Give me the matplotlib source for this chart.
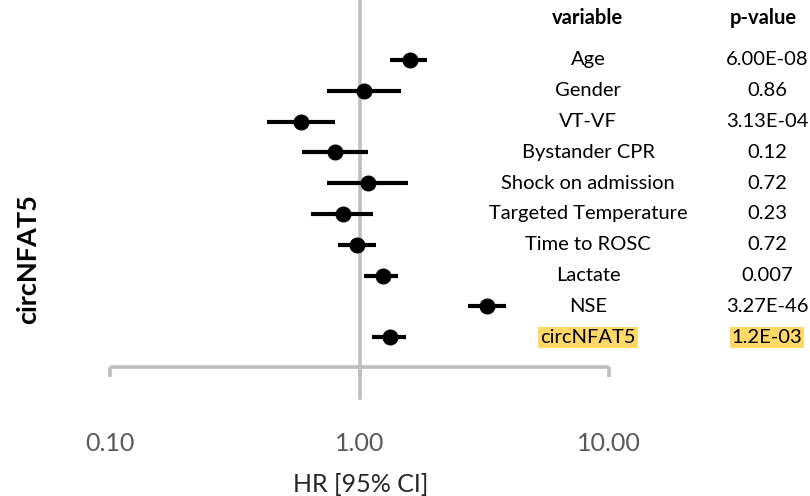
import matplotlib
matplotlib.use('Agg')
import matplotlib.pyplot as plt
import matplotlib.transforms as mtransforms

plt.rcParams['font.family'] = ['Lato', 'DejaVu Sans']

variables = ['Age', 'Gender', 'VT-VF', 'Bystander CPR', 'Shock on admission',
             'Targeted Temperature', 'Time to ROSC', 'Lactate', 'NSE', 'circNFAT5']
hr = [1.59, 1.04, 0.585, 0.80, 1.08, 0.855, 0.98, 1.24, 3.23, 1.33]
ci_low = [1.33, 0.74, 0.424, 0.59, 0.74, 0.64, 0.82, 1.04, 2.71, 1.12]
ci_high = [1.87, 1.46, 0.794, 1.08, 1.57, 1.13, 1.16, 1.43, 3.88, 1.54]
p_values = ['6.00E-08', '0.86', '3.13E-04', '0.12', '0.72', '0.23', '0.72',
            '0.007', '3.27E-46', '1.2E-03']
x_ticks = [0.1, 1, 10]
x_ticklabels = ['0.10', '1.00', '10.00']
highlight = 'circNFAT5'

W, H = 810, 496
fig = plt.figure(figsize=(W / 100, H / 100), dpi=100)
# axes spans the whole width, bottom spine sits at y=367px
ax = fig.add_axes([0, 1 - 367 / H, 1, 367 / H])

# 0.1 at 110px, 10 at 609px
dec = (609 - 110) / 2
lo = -1 - 110 / dec
hi = -1 + (W - 110) / dec
ax.set_xscale('log')
ax.set_xlim(10 ** lo, 10 ** hi)

row_h = 30.8
ax.set_ylim(9.97, -60 / row_h)

rows = list(range(len(variables)))
gray = '#BFBFBF'

ax.axvline(1, ymin=-31 / 367, ymax=1, color=gray, lw=2.6, clip_on=False, zorder=1)

xerr = [[h - l for h, l in zip(hr, ci_low)], [u - h for h, u in zip(hr, ci_high)]]
ax.errorbar(hr, rows, xerr=xerr, fmt='o', color='black', ecolor='black',
            elinewidth=3, capsize=0, markersize=10.5, zorder=3)

for s in ['top', 'right', 'left']:
    ax.spines[s].set_visible(False)
ax.spines['bottom'].set_color(gray)
ax.spines['bottom'].set_linewidth(2.6)
ax.spines['bottom'].set_bounds(x_ticks[0], x_ticks[-1])
ax.spines['bottom'].set_capstyle('butt')

ax.set_yticks([])
ax.set_xticks(x_ticks)
ax.set_xticklabels(x_ticklabels)
ax.minorticks_off()
ax.tick_params(axis='x', direction='out', length=7, width=2.6, color=gray,
               labelsize=18, labelcolor='#595959', pad=40)
ax.patch.set_visible(False)

fig.text(361 / W, 1 - 485 / H, 'HR [95% CI]', ha='center', va='center',
         fontsize=18, color='#262626')
fig.text(28 / W, 1 - 259 / H, 'circNFAT5', rotation=90, ha='center', va='center',
         fontsize=19.5, fontweight='bold', color='black')

tr = mtransforms.blended_transform_factory(fig.transFigure, ax.transData)
col_var = 588 / W
col_p = 767 / W
head_y = (18 - 60) / row_h
ax.text(col_var, head_y, 'variable', transform=tr, ha='center', va='center',
        fontsize=14.5, fontweight='bold')
ax.text(col_p - 4 / W, head_y, 'p-value', transform=tr, ha='center', va='center',
        fontsize=14.5, fontweight='bold')

for i, (name, p) in enumerate(zip(variables, p_values)):
    box = None
    if name == highlight:
        box = dict(facecolor='#FFD966', edgecolor='none', pad=1.5)
    ax.text(col_var, i, name, transform=tr, ha='center', va='center',
            fontsize=14.5, color='black', bbox=box)
    ax.text(col_p, i, p, transform=tr, ha='center', va='center',
            fontsize=14.5, color='black', bbox=box)

fig.savefig('out.png', dpi=100)
